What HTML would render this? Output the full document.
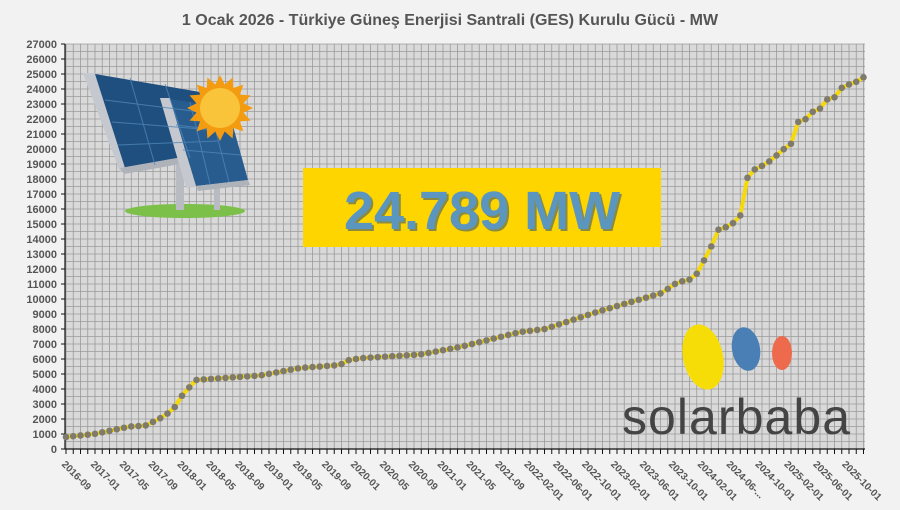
<!DOCTYPE html>
<html><head><meta charset="utf-8"><style>
html,body{margin:0;padding:0;background:#f2f2f2;width:900px;height:510px;overflow:hidden}
svg{display:block}
text{font-family:"Liberation Sans",sans-serif;font-weight:bold}
</style></head><body>
<svg id="s" width="900" height="510" xmlns="http://www.w3.org/2000/svg">
<rect width="900" height="510" fill="#f2f2f2"/>
<text x="450" y="25" text-anchor="middle" font-size="16" fill="#555">1 Ocak 2026 - Türkiye Güneş Enerjisi Santrali (GES) Kurulu Gücü - MW</text>
<rect x="65" y="44" width="800" height="405" fill="#d9d9d9"/>
<g id="grid"></g>
<g id="art">
 <ellipse cx="185" cy="211" rx="60" ry="7" fill="#7cc04a"/>
 <rect x="176" y="150" width="8" height="60" fill="#b8bcc2"/>
 <rect x="214" y="170" width="6" height="40" fill="#b8bcc2"/>
 <polygon points="83,73 95,73 130,168 120,172" fill="#c5c9cf"/>
 <polygon points="95,74 200,92 222,150 125,168" fill="#1f4f7e"/>
 <polygon points="120,168 222,150 225,156 124,174" fill="#aeb3ba"/>
 <polygon points="160,98 170,98 196,187 186,188" fill="#c5c9cf"/>
 <polygon points="170,99 228,108 248,180 196,186" fill="#285c8e"/>
 <polygon points="196,186 248,180 250,185 198,191" fill="#aeb3ba"/>
 <g stroke="#4f86b8" stroke-width="1" opacity="0.8">
  <line x1="105" y1="100" x2="208" y2="113"/><line x1="112" y1="122" x2="214" y2="130"/><line x1="118" y1="145" x2="218" y2="141"/>
  <line x1="130" y1="78" x2="155" y2="165"/><line x1="165" y1="84" x2="190" y2="158"/>
  <line x1="176" y1="125" x2="235" y2="132"/><line x1="183" y1="150" x2="241" y2="155"/>
  <line x1="190" y1="102" x2="210" y2="184"/><line x1="209" y1="105" x2="229" y2="182"/>
 </g>
 <polygon id="sunray" fill="#f39c12" points=""/>
 <circle cx="220" cy="108" r="20" fill="#f9c43a"/>
</g>
<g id="plot"></g>
<rect x="303" y="168" width="358" height="79" fill="#ffd500"/>
<text x="482" y="229" text-anchor="middle" font-size="54" fill="#3c5a70" opacity="0.6" transform="translate(2,2)">24.789 MW</text>
<text x="482" y="229" text-anchor="middle" font-size="54" fill="#5b96c0">24.789 MW</text>
<ellipse cx="703" cy="357" rx="20" ry="33" transform="rotate(-12 703 357)" fill="#f7dd07"/>
<ellipse cx="746" cy="349" rx="14" ry="22" transform="rotate(-10 746 349)" fill="#4a7fb5"/>
<ellipse cx="782" cy="353" rx="10" ry="17" fill="#ed6a4d"/>
<text x="622" y="434" font-size="50" font-weight="normal" style="font-weight:normal" fill="#444" textLength="228">solarbaba</text>
</svg>
<script>
var ns="http://www.w3.org/2000/svg",g=document.getElementById('grid'),p=document.getElementById('plot');
function el(t,a,par){var e=document.createElementNS(ns,t);for(var k in a)e.setAttribute(k,a[k]);(par||g).appendChild(e);return e;}
var x0=66,dx=7.25,N=111,Y=function(v){return 449-v*15;};
for(var i=0;i<=N;i++){var x=x0+i*dx;if(x>865)break;el('line',{x1:x,y1:44,x2:x,y2:449,stroke:'#9a9a9a','stroke-width':0.8});el('line',{x1:x,y1:449,x2:x,y2:454,stroke:'#111','stroke-width':1},p);}
for(var v=0;v<=27;v+=0.5){el('line',{x1:65,y1:Y(v),x2:865,y2:Y(v),stroke:'#9a9a9a','stroke-width':0.8});}
for(var v=0;v<=27;v++){el('line',{x1:61,y1:Y(v),x2:65,y2:Y(v),stroke:'#111'},p);var t=el('text',{x:57,y:Y(v)+4,'text-anchor':'end','font-size':11,fill:'#555'},p);t.textContent=v?v*1000:0;}
el('line',{x1:65,y1:44,x2:65,y2:449,stroke:'#111','stroke-width':1.2},p);
el('line',{x1:65,y1:449,x2:865,y2:449,stroke:'#111','stroke-width':1.2},p);
var A=[[66,.8],[94,1],[130,1.5],[145,1.55],[159,2],[173,2.6],[180,3.4],[188,4],[195,4.6],[260,4.9],[300,5.4],[340,5.6],[347,5.9],[360,6.05],[420,6.3],[460,6.8],[520,7.8],[545,8],[600,9.2],[662,10.4],[677,11.1],[690,11.3],[697,11.7],[705,12.7],[712,13.6],[719,14.7],[727,14.8],[734,15.1],[742,15.7],[748,18.3],[756,18.7],[763,18.9],[770,19.2],[777,19.6],[784,20],[792,20.4],[798,21.8],[806,22],[813,22.5],[820,22.7],[827,23.3],[834,23.4],[842,24.1],[849,24.3],[857,24.5],[864,24.8]];
function val(x){for(var j=0;j<A.length-1;j++){if(x<=A[j+1][0]){var f=(x-A[j][0])/(A[j+1][0]-A[j][0]);return A[j][1]+f*(A[j+1][1]-A[j][1]);}}return A[A.length-1][1];}
var pts=[];for(var i=0;i<N;i++){var x=x0+i*dx;if(x>865)break;pts.push([x,Y(val(x))]);}
el('polyline',{points:pts.map(function(q){return q.join(',')}).join(' '),fill:'none',stroke:'#f5d90a','stroke-width':4},p);
pts.forEach(function(q){el('circle',{cx:q[0],cy:q[1],r:3.3,fill:'#7f7a6e'},p);});
var L=["2016-09","2017-01","2017-05","2017-09","2018-01","2018-05","2018-09","2019-01","2019-05","2019-09","2020-01","2020-05","2020-09","2021-01","2021-05","2021-09","2022-02-01","2022-06-01","2022-10-01","2023-02-01","2023-06-01","2023-10-01","2024-02-01","2024-06-...","2024-10-01","2025-02-01","2025-06-01","2025-10-01"];
L.forEach(function(s,k){var x=64+k*28.9;var t=el('text',{x:x,y:466,'font-size':10,fill:'#555',transform:'rotate(45 '+x+' 462)'},p);t.textContent=s;});
var r=[];for(var k=0;k<32;k++){var a=k*Math.PI/16,R=k%2?24:33;r.push((220+R*Math.cos(a))+','+(108+R*Math.sin(a)));}
document.getElementById('sunray').setAttribute('points',r.join(' '));
</script>
</body></html>
